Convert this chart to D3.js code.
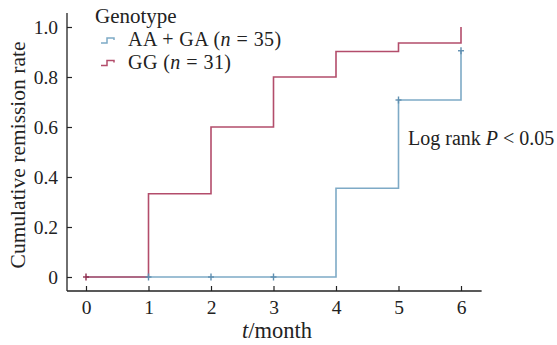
<!DOCTYPE html>
<html><head><meta charset="utf-8">
<script src="https://cdn.jsdelivr.net/npm/d3@7"></script>
<style>
html,body{margin:0;padding:0;background:#fff;}
svg text{font-family:'Times New Roman',Times,'Liberation Serif','DejaVu Serif',serif !important;}
</style></head>
<body>
<svg id="chart" width="557" height="345"></svg>
<script>
// Data
const months = [0, 1, 2, 3, 4, 5, 6];
const xTickLabels = ["0", "1", "2", "3", "4", "5", "6"];
const yTicks = [0, 0.2, 0.4, 0.6, 0.8, 1.0];
const yTickLabels = ["0", "0.2", "0.4", "0.6", "0.8", "1.0"];
const seriesNames = ["AA + GA", "GG"];
const seriesN = [35, 31];
const aaGaRate = [0, 0, 0, 0, 0.355, 0.708, 0.905];
const ggRate = [0, 0.333, 0.6, 0.8, 0.902, 0.936, 1.0];
const aaGaCensor = [1, 2, 3, 5, 6];
const ggCensor = [0];

const colors = ["#7eaac6", "#b34d6b"];
const svg = d3.select("#chart");
const x = d3.scaleLinear().domain([0, 6]).range([86, 461]);
const y = d3.scaleLinear().domain([0, 1]).range([277, 27]);
const axisY = 291, axisX = 67;

// axis lines
svg.append("line").attr("x1", axisX).attr("x2", axisX).attr("y1", y(1.056)).attr("y2", axisY)
  .attr("stroke", "#222").attr("stroke-width", 1.3);
svg.append("line").attr("x1", axisX).attr("x2", x(6.33)).attr("y1", axisY).attr("y2", axisY)
  .attr("stroke", "#222").attr("stroke-width", 1.3);

const xAxis = svg.append("g").attr("transform", `translate(0,${axisY})`)
  .call(d3.axisBottom(x).tickValues(months).tickFormat((d, i) => xTickLabels[i]).tickSizeInner(-5).tickSizeOuter(0).tickPadding(9));
const yAxis = svg.append("g").attr("transform", `translate(${axisX},0)`)
  .call(d3.axisLeft(y).tickValues(yTicks).tickFormat((d, i) => yTickLabels[i]).tickSizeInner(-5).tickSizeOuter(0).tickPadding(9));
[xAxis, yAxis].forEach(g => {
  g.attr("font-family", null).attr("font-size", null);
  g.select(".domain").remove();
  g.selectAll(".tick line").attr("stroke", "#222").attr("stroke-width", 1.2);
  g.selectAll(".tick text").attr("fill", "#222").style("font-size", "19.5px");
});

// step lines
const line = d3.line().x((d, i) => x(months[i])).y(d => y(d)).curve(d3.curveStepAfter);
[aaGaRate, ggRate].forEach((s, k) => {
  svg.append("path").attr("d", line(s)).attr("fill", "none").attr("stroke", colors[k]).attr("stroke-width", 1.6);
});

// censor marks
function censor(list, series, col) {
  list.forEach(m => {
    const cx = x(m), cy = y(series[months.indexOf(m)]);
    svg.append("line").attr("x1", cx).attr("x2", cx).attr("y1", cy - 3.5).attr("y2", cy + 3.5)
      .attr("stroke", col).attr("stroke-width", 1.4);
    svg.append("line").attr("x1", cx - 3).attr("x2", cx + 3).attr("y1", cy).attr("y2", cy)
      .attr("stroke", col).attr("stroke-width", 1.4);
  });
}
censor(aaGaCensor, aaGaRate, "#5f8fb0");
censor(ggCensor, ggRate, "#8f2f4f");

// axis titles
svg.append("text").attr("x", 277).attr("y", 338).attr("text-anchor", "middle")
  .style("font-size", "22.5px").attr("fill", "#222")
  .html('<tspan font-style="italic">t</tspan>/month');
svg.append("text").attr("transform", "translate(25,155) rotate(-90)").attr("text-anchor", "middle")
  .style("font-size", "21.5px").attr("fill", "#222").text("Cumulative remission rate");

// annotation
svg.append("text").attr("x", 408).attr("y", 145).style("font-size", "20px").attr("fill", "#222")
  .html('Log rank <tspan font-style="italic">P</tspan> &lt; 0.05');

// legend
svg.append("text").attr("x", 95).attr("y", 22.5).style("font-size", "21px").attr("fill", "#222").text("Genotype");
seriesNames.forEach((nm, k) => {
  const by = 46 + k * 22.5;
  const iy = by - 5;
  svg.append("path").attr("d", `M101,${iy + 2}H107V${iy - 3}H114V${iy - 1}`)
    .attr("fill", "none").attr("stroke", colors[k]).attr("stroke-width", 1.5);
  svg.append("text").attr("x", 128).attr("y", by).style("font-size", "20px")
    .style("letter-spacing", "0.45px").attr("fill", "#222")
    .html(`${nm} (<tspan font-style="italic">n</tspan> = ${seriesN[k]})`);
});
</script>
</body></html>
